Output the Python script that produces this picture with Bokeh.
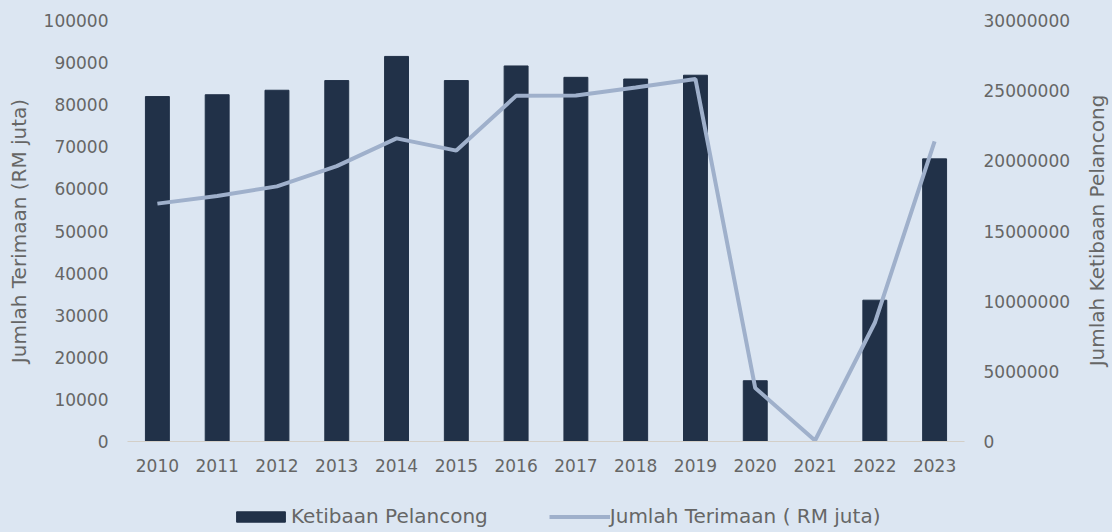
import math
from bokeh.plotting import figure
from bokeh.layouts import column, row
from bokeh.models import (Range1d, FactorRange, LinearAxis, FixedTicker, BasicTickFormatter,
                          Legend, LegendItem, ColumnDataSource, Label)
from bokeh.embed import file_html
from bokeh.resources import INLINE

years = ["2010", "2011", "2012", "2013", "2014", "2015", "2016",
         "2017", "2018", "2019", "2020", "2021", "2022", "2023"]
arrivals = [24580000, 24710000, 25030000, 25720000, 27440000, 25720000, 26760000,
            25950000, 25830000, 26100000, 4330000, 0, 10070000, 20140000]
receipts = [56500, 58300, 60600, 65400, 72000, 69100, 82100,
            82200, 84100, 86100, 12700, 240, 28200, 71300]
left_ticks = [0, 10000, 20000, 30000, 40000, 50000, 60000, 70000, 80000, 90000, 100000]
right_ticks = [0, 5000000, 10000000, 15000000, 20000000, 25000000, 30000000]
series_names = ["Ketibaan Pelancong", "Jumlah Terimaan ( RM juta)"]
left_title = "Jumlah Terimaan (RM juta)"
right_title = "Jumlah Ketibaan Pelancong"

BG = "#dce6f2"
TXT = "#666666"
FONT = "DejaVu Sans"
BAR = "#213148"
LINE = "#9fb0cb"

src = ColumnDataSource(dict(year=years, arrivals=arrivals, receipts=receipts))

p = figure(width=1080, height=490, x_range=FactorRange(*years, range_padding=0),
           y_range=Range1d(0, 100000), output_backend="svg", toolbar_location=None,
           min_border_left=127, min_border_right=116, min_border_top=20, min_border_bottom=49)
p.background_fill_color = BG
p.border_fill_color = BG
p.outline_line_color = None
p.grid.grid_line_color = None
p.extra_y_ranges = {"arr": Range1d(0, 30000000)}

p.vbar(x="year", top="arrivals", width=0.4, source=src, y_range_name="arr",
       fill_color=BAR, line_color=BAR)
p.line(x="year", y="receipts", source=src, line_color=LINE, line_width=4)

# x axis
xa = p.xaxis[0]
xa.axis_line_color = "#d3cfc8"
xa.major_tick_line_color = None
xa.minor_tick_line_color = None
xa.major_tick_out = 0
xa.major_label_standoff = 17
xa.major_label_text_font = FONT
xa.major_label_text_font_size = "17px"
xa.major_label_text_color = TXT

# left axis
ya = p.yaxis[0]
ya.ticker = FixedTicker(ticks=left_ticks)
ya.formatter = BasicTickFormatter(use_scientific=False)
ya.axis_line_color = None
ya.major_tick_line_color = None
ya.minor_tick_line_color = None
ya.major_tick_out = 0
ya.major_label_standoff = 19
ya.major_label_text_font = FONT
ya.major_label_text_font_size = "17px"
ya.major_label_text_color = TXT
ya.axis_label = left_title
ya.axis_label_text_font = FONT
ya.axis_label_text_font_size = "20px"
ya.axis_label_text_font_style = "normal"
ya.axis_label_text_color = TXT
ya.axis_label_standoff = 10

# right axis (ticks)
ra = LinearAxis(y_range_name="arr", ticker=FixedTicker(ticks=right_ticks),
                formatter=BasicTickFormatter(use_scientific=False))
ra.axis_line_color = None
ra.major_tick_line_color = None
ra.minor_tick_line_color = None
ra.major_tick_out = 0
ra.major_label_standoff = 19
ra.major_label_text_font = FONT
ra.major_label_text_font_size = "17px"
ra.major_label_text_color = TXT
p.add_layout(ra, "right")

# right-axis title strip (text reads upwards)
rf = figure(width=32, height=490, x_range=Range1d(0, 1), y_range=Range1d(0, 1),
            output_backend="svg", toolbar_location=None,
            min_border_left=0, min_border_right=0, min_border_top=0, min_border_bottom=0)
rf.axis.visible = False
rf.grid.grid_line_color = None
rf.outline_line_color = None
rf.background_fill_color = BG
rf.border_fill_color = BG
rf.add_layout(Label(x=0.5, y=(490 - 230) / 490, text=right_title, angle=math.pi / 2,
                    text_align="center", text_baseline="middle", text_font=FONT,
                    text_font_size="20px", text_color=TXT))

# legend strip
lg = figure(width=1112, height=42, x_range=Range1d(0, 1), y_range=Range1d(0, 1),
            output_backend="svg", toolbar_location=None,
            min_border_left=0, min_border_right=0, min_border_top=0, min_border_bottom=0)
lg.axis.visible = False
lg.grid.grid_line_color = None
lg.outline_line_color = None
lg.background_fill_color = BG
lg.border_fill_color = BG
r_bar = lg.vbar(x=[5], top=[5], width=0.4, fill_color=BAR, line_color=BAR)
r_line = lg.line(x=[5, 6], y=[5, 5], line_color=LINE, line_width=4)

legend = Legend(items=[LegendItem(label=series_names[0], renderers=[r_bar]),
                       LegendItem(label=series_names[1], renderers=[r_line])],
                orientation="horizontal", location=(230, 4))
legend.background_fill_alpha = 0
legend.border_line_color = None
legend.label_text_font = FONT
legend.label_text_font_size = "20px"
legend.label_text_color = TXT
legend.glyph_width = 61
legend.glyph_height = 13
legend.label_standoff = 0
legend.spacing = 61
legend.padding = 0
legend.margin = 0
lg.add_layout(legend, "center")

layout = column(row(p, column(rf), spacing=0), row(lg), spacing=0,
                styles={"background-color": BG})
open("out.html", "w").write(file_html(layout, INLINE))
